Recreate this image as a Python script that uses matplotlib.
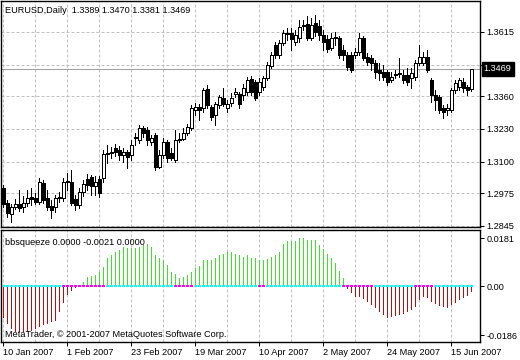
import matplotlib
matplotlib.use('Agg')
import matplotlib.pyplot as plt
from matplotlib.transforms import blended_transform_factory

# ---------------- data ----------------
opens = [1.2996,1.2936,1.2892,1.2920,1.2932,1.2920,1.2936,1.2960,1.2956,1.2940,
         1.3015,1.2956,1.2924,1.2920,1.2956,1.2956,1.3019,1.3019,1.2952,1.2928,
         1.2980,1.3031,1.3039,1.3004,1.3031,1.3035,1.3131,1.3139,1.3154,1.3147,
         1.3127,1.3139,1.3127,1.3194,1.3186,1.3234,1.3226,1.3178,1.3206,1.3079,
         1.3127,1.3178,1.3135,1.3107,1.3186,1.3190,1.3214,1.3234,1.3305,1.3317,
         1.3313,1.3389,1.3317,1.3285,1.3325,1.3353,1.3313,1.3333,1.3369,1.3369,
         1.3365,1.3377,1.3428,1.3416,1.3377,1.3397,1.3432,1.3480,1.3563,1.3524,
         1.3571,1.3607,1.3611,1.3575,1.3591,1.3643,1.3647,1.3591,1.3651,1.3639,
         1.3603,1.3587,1.3551,1.3591,1.3591,1.3543,1.3524,1.3524,1.3524,1.3535,
         1.3591,1.3516,1.3512,1.3492,1.3464,1.3456,1.3456,1.3424,1.3444,1.3448,
         1.3444,1.3444,1.3432,1.3436,1.3492,1.3492,1.3516,1.3424,1.3365,1.3357,
         1.3313,1.3305,1.3305,1.3385,1.3397,1.3416,1.3397,1.3389]
highs = [1.3008,1.2948,1.2932,1.2952,1.2988,1.2964,1.2988,1.2996,1.2976,1.3035,
         1.3027,1.2988,1.2948,1.2968,1.2980,1.3035,1.3055,1.3067,1.2968,1.2996,
         1.3027,1.3051,1.3047,1.3043,1.3043,1.3147,1.3166,1.3158,1.3170,1.3162,
         1.3154,1.3147,1.3186,1.3214,1.3246,1.3242,1.3238,1.3206,1.3214,1.3147,
         1.3194,1.3186,1.3154,1.3226,1.3214,1.3234,1.3250,1.3325,1.3333,1.3329,
         1.3393,1.3405,1.3325,1.3337,1.3365,1.3393,1.3345,1.3373,1.3393,1.3377,
         1.3409,1.3436,1.3440,1.3424,1.3432,1.3440,1.3496,1.3535,1.3575,1.3583,
         1.3623,1.3631,1.3631,1.3623,1.3663,1.3663,1.3678,1.3671,1.3682,1.3663,
         1.3623,1.3603,1.3611,1.3615,1.3599,1.3563,1.3535,1.3535,1.3551,1.3611,
         1.3599,1.3532,1.3524,1.3504,1.3492,1.3484,1.3464,1.3456,1.3464,1.3512,
         1.3464,1.3472,1.3472,1.3504,1.3563,1.3535,1.3543,1.3432,1.3385,1.3365,
         1.3325,1.3329,1.3393,1.3424,1.3432,1.3432,1.3405,1.3470]
lows = [1.2920,1.2881,1.2861,1.2912,1.2904,1.2900,1.2924,1.2928,1.2932,1.2932,
        1.2936,1.2908,1.2877,1.2900,1.2940,1.2944,1.2988,1.2928,1.2908,1.2916,
        1.2964,1.2988,1.2968,1.2968,1.2960,1.3019,1.3095,1.3115,1.3123,1.3107,
        1.3099,1.3075,1.3107,1.3166,1.3174,1.3198,1.3166,1.3166,1.3067,1.3075,
        1.3115,1.3099,1.3107,1.3099,1.3178,1.3186,1.3206,1.3226,1.3285,1.3266,
        1.3297,1.3313,1.3266,1.3246,1.3313,1.3321,1.3297,1.3321,1.3357,1.3313,
        1.3345,1.3365,1.3365,1.3345,1.3365,1.3385,1.3424,1.3472,1.3512,1.3512,
        1.3563,1.3583,1.3543,1.3563,1.3575,1.3623,1.3583,1.3583,1.3599,1.3583,
        1.3543,1.3535,1.3543,1.3563,1.3512,1.3504,1.3464,1.3456,1.3512,1.3524,
        1.3504,1.3484,1.3464,1.3432,1.3424,1.3424,1.3405,1.3416,1.3432,1.3436,
        1.3412,1.3405,1.3393,1.3424,1.3484,1.3484,1.3456,1.3337,1.3305,1.3293,
        1.3274,1.3285,1.3297,1.3373,1.3385,1.3377,1.3365,1.3381]
closes = [1.2932,1.2896,1.2920,1.2932,1.2916,1.2936,1.2956,1.2952,1.2940,1.3019,
          1.2948,1.2920,1.2908,1.2956,1.2960,1.3019,1.3023,1.2936,1.2928,1.2980,
          1.3011,1.3008,1.3004,1.3019,1.2976,1.3131,1.3135,1.3135,1.3139,1.3127,
          1.3139,1.3119,1.3166,1.3198,1.3234,1.3214,1.3186,1.3194,1.3079,1.3127,
          1.3178,1.3115,1.3115,1.3186,1.3190,1.3214,1.3238,1.3313,1.3317,1.3305,
          1.3385,1.3325,1.3278,1.3329,1.3357,1.3329,1.3329,1.3353,1.3377,1.3329,
          1.3393,1.3424,1.3377,1.3353,1.3416,1.3432,1.3484,1.3524,1.3524,1.3571,
          1.3611,1.3611,1.3587,1.3603,1.3635,1.3639,1.3591,1.3643,1.3615,1.3603,
          1.3575,1.3547,1.3591,1.3595,1.3524,1.3524,1.3476,1.3464,1.3535,1.3591,
          1.3512,1.3496,1.3492,1.3456,1.3452,1.3436,1.3416,1.3436,1.3448,1.3452,
          1.3424,1.3416,1.3452,1.3492,1.3516,1.3516,1.3464,1.3365,1.3345,1.3305,
          1.3297,1.3313,1.3385,1.3412,1.3424,1.3393,1.3385,1.3469]

squeeze = [-0.0122,-0.0145,-0.0164,-0.0174,-0.0176,-0.0176,-0.0174,-0.0170,-0.0164,-0.0154,
           -0.0149,-0.0145,-0.0138,-0.0132,-0.0100,-0.0063,-0.0034,-0.0018,-0.0009,0.0003,
           0.0016,0.0035,0.0039,0.0042,0.0054,0.0073,0.0105,0.0117,0.0127,0.0136,
           0.0146,0.0142,0.0142,0.0142,0.0149,0.0155,0.0158,0.0149,0.0117,0.0105,
           0.0098,0.0079,0.0054,0.0044,0.0032,0.0035,0.0042,0.0054,0.0067,0.0077,
           0.0098,0.0098,0.0098,0.0105,0.0117,0.0123,0.0127,0.0127,0.0120,0.0117,
           0.0111,0.0117,0.0107,0.0105,0.0100,0.0098,0.0101,0.0111,0.0117,0.0130,
           0.0158,0.0171,0.0171,0.0171,0.0180,0.0180,0.0174,0.0174,0.0174,0.0155,
           0.0140,0.0120,0.0105,0.0086,0.0057,0.0032,-0.0012,-0.0028,-0.0040,-0.0040,
           -0.0049,-0.0062,-0.0072,-0.0084,-0.0097,-0.0110,-0.0120,-0.0117,-0.0112,-0.0110,
           -0.0105,-0.0100,-0.0091,-0.0078,-0.0053,-0.0040,-0.0047,-0.0059,-0.0069,-0.0074,
           -0.0079,-0.0082,-0.0072,-0.0066,-0.0053,-0.0044,-0.0038,-0.0021]

# squeeze state per bar: C = cyan dot, M = magenta dot
squeeze_state = ("CCCCCCCCCCCCCCC" "MMMMMMMMMMM" "CCCCCCCCCCCCCCCCC" "MMMMM"
                 "CCCCCCCCCCCCCCCC" "MM" "CCCCCCCCCCCCCCCCCCC" "MMMMMMMM"
                 "CCCCCCCCCC" "MMMMM" "CCCCCCCCCC")

date_labels = ["10 Jan 2007", "1 Feb 2007", "23 Feb 2007", "19 Mar 2007",
               "10 Apr 2007", "2 May 2007", "24 May 2007", "15 Jun 2007"]
date_label_bars = [0, 16, 32, 48, 64, 80, 96, 112]
grid_bars = [0, 8, 16, 24, 32, 40, 48, 56, 64, 72, 80, 88, 96, 104, 112]
price_ticks = [1.3615, 1.3485, 1.3360, 1.3230, 1.3100, 1.2975, 1.2845]
ind_ticks = [0.0181, 0.0, -0.0186]
ind_tick_labels = ["0.0181", "0.00", "-0.0186"]
last_price = 1.3469

# ---------------- figure ----------------
W, H = 520, 360
fig = plt.figure(figsize=(W / 100, H / 100), dpi=100)
fig.patch.set_facecolor('white')
FONT = 'Liberation Sans'
FS = 6.6
px = 0.72  # one pixel in points

def axes_px(left, top, right, bottom):
    return fig.add_axes([left / W, 1 - bottom / H, (right - left) / W, (bottom - top) / H])

ax = axes_px(1, 0.5, 480, 227)
ax2 = axes_px(1, 230, 480, 342)

n = len(closes)
xs = list(range(n))
for a in (ax, ax2):
    a.set_xlim(-0.625, 119.125)
    for s in a.spines.values():
        s.set_color('black')
        s.set_linewidth(1.0)
    for g in grid_bars:
        a.axvline(g, color='#c0c0c0', lw=px, ls=(0, (3, 2)), zorder=0)

# main panel
ax.set_ylim(1.2841, 1.3740)
for p in price_ticks:
    ax.axhline(p, color='#c0c0c0', lw=px, ls=(0, (3, 2)), zorder=0)
ax.axhline(last_price, color='#a0a0a0', lw=px, zorder=1)

body_w = 0.55
for i in xs:
    o, h, l, c = opens[i], highs[i], lows[i], closes[i]
    ax.vlines(i, l, h, color='black', lw=px, zorder=2, antialiased=False)
    lo, hi = min(o, c), max(o, c)
    if hi - lo < 0.00012:
        lo, hi = (o + c) / 2 - 0.00006, (o + c) / 2 + 0.00006
    fc = 'white' if c >= o else 'black'
    ax.bar(i, hi - lo, bottom=lo, width=body_w, color=fc, edgecolor='black',
           linewidth=px, zorder=3, antialiased=False)

ax.set_xticks([])
ax.yaxis.tick_right()
ax.set_yticks(price_ticks)
ax.set_yticklabels([f"{p:.4f}" for p in price_ticks], fontfamily=FONT, fontsize=FS)
ax.tick_params(axis='y', direction='out', length=3, width=px, pad=1.5, colors='black')

ax.text(0.008, 0.955, "EURUSD,Daily  1.3389 1.3470 1.3381 1.3469", transform=ax.transAxes,
        fontfamily=FONT, fontsize=FS, va='center', ha='left')
tr = blended_transform_factory(ax.transAxes, ax.transData)
ax.text(1.008, last_price, f"{last_price:.4f}", transform=tr, color='white',
        fontfamily=FONT, fontsize=FS, va='center', ha='left', zorder=10, clip_on=False,
        bbox=dict(boxstyle='square,pad=0.25', fc='black', ec='black'))

# indicator panel
ax2.set_ylim(-0.0212, 0.0212)
cols = ['#3ee02c' if v >= 0 else '#c00a0a' for v in squeeze]
ax2.bar(xs, squeeze, width=0.25, color=cols, linewidth=0, zorder=2, antialiased=False)
dot_h = 0.00112
for state, col in (('C', '#00ffff'), ('M', '#ff00ff')):
    xi = [i for i in xs if squeeze_state[i] == state]
    ax2.bar(xi, [dot_h] * len(xi), bottom=-dot_h / 2, width=0.75, color=col,
            linewidth=0, zorder=3, antialiased=False)

ax2.yaxis.tick_right()
ax2.set_yticks(ind_ticks)
ax2.set_yticklabels(ind_tick_labels, fontfamily=FONT, fontsize=FS)
ax2.tick_params(axis='y', direction='out', length=3, width=px, pad=1.5, colors='black')
ax2.set_xticks(date_label_bars)
ax2.set_xticklabels(date_labels, fontfamily=FONT, fontsize=FS, ha='left')
ax2.tick_params(axis='x', direction='out', length=3, width=px, pad=1.5, colors='black')

ax2.text(0.008, 0.885, "bbsqueeze 0.0000 -0.0021 0.0000", transform=ax2.transAxes,
         fontfamily=FONT, fontsize=FS, va='center', ha='left')
ax2.text(0.008, 0.07, "MetaTrader, \u00a9 2001-2007 MetaQuotes Software Corp.",
         transform=ax2.transAxes, fontfamily=FONT, fontsize=FS, va='center', ha='left')

fig.savefig('out.png', dpi=100, facecolor='white')
